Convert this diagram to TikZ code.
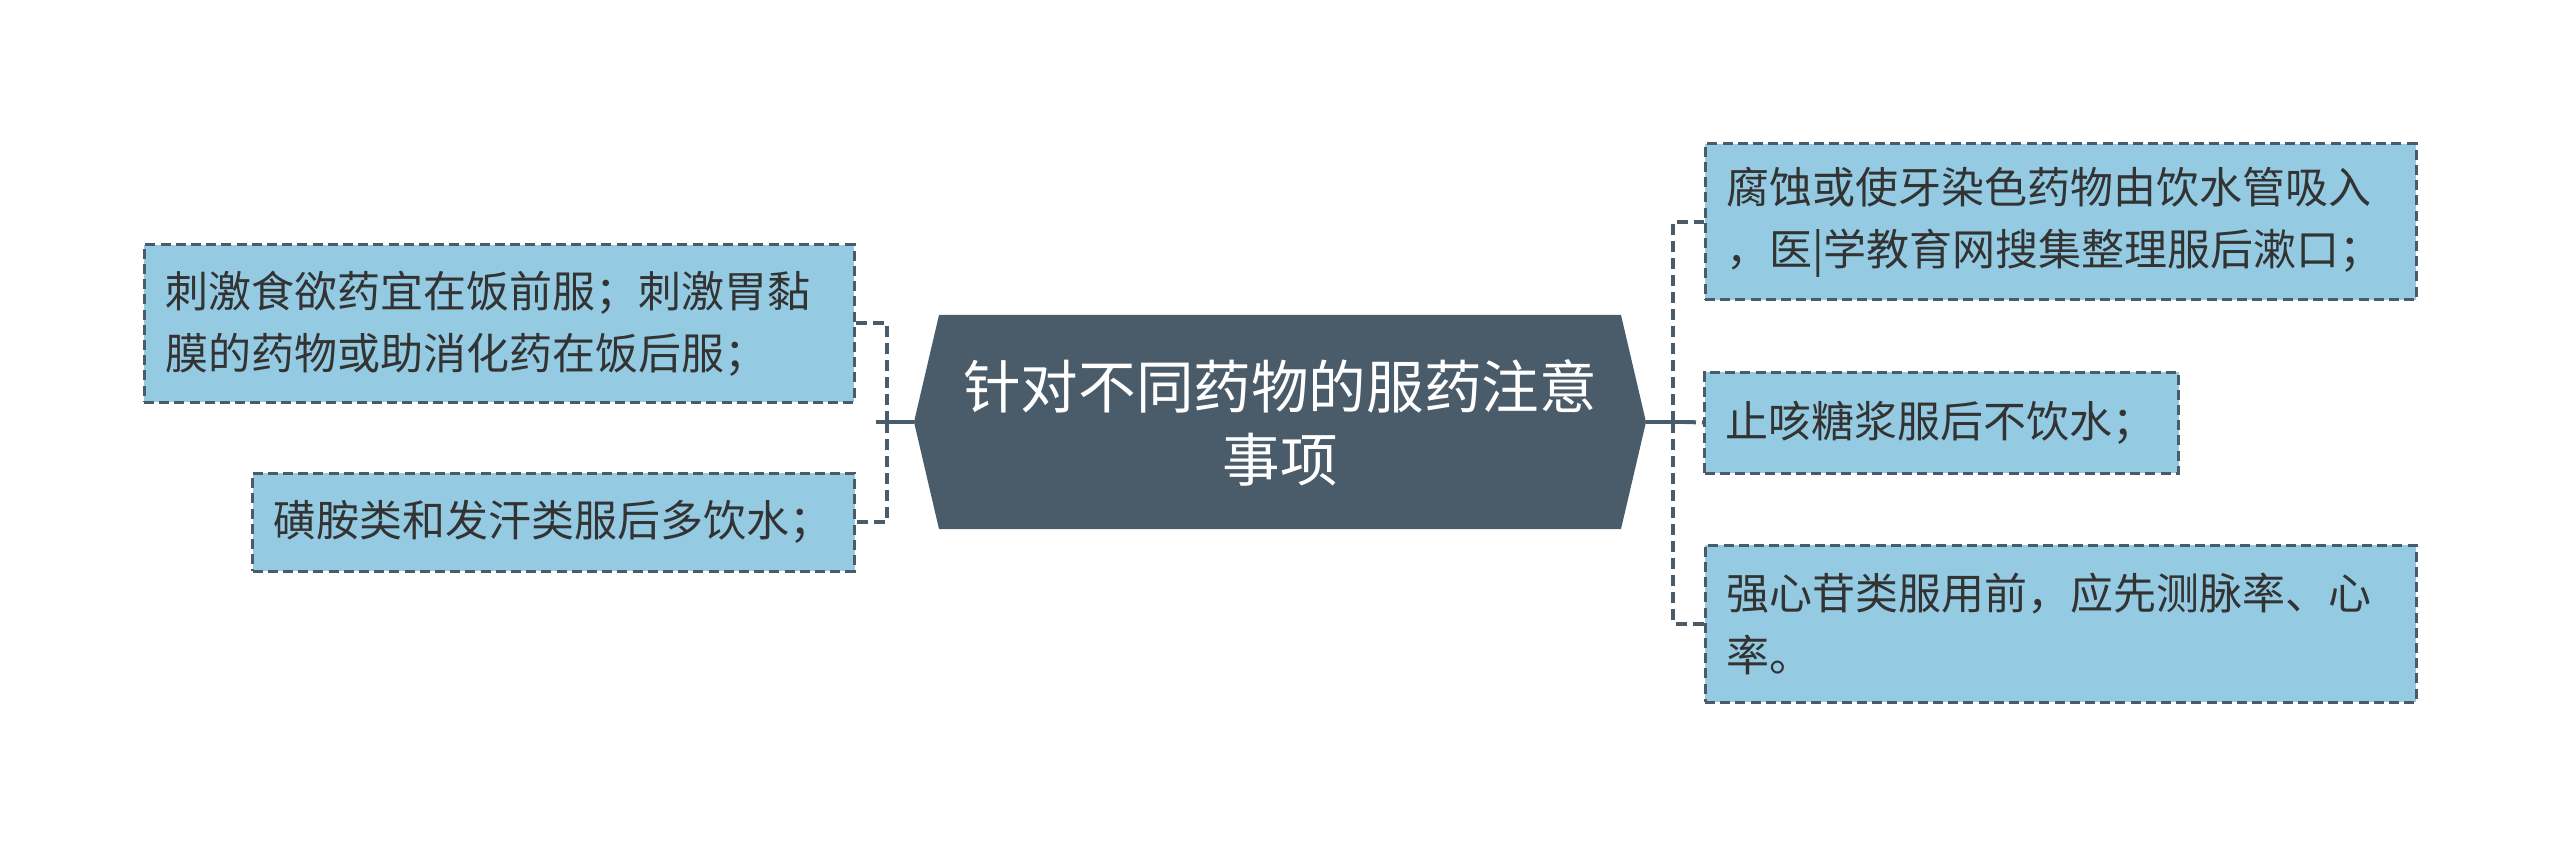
\documentclass[tikz,border=0pt]{standalone}
\usepackage{fontspec}
\usepackage{tikz}
\newfontfamily\cjk{Noto Sans CJK SC}
\definecolor{hubgray}{HTML}{4A5B6A}
\definecolor{notefill}{HTML}{94CBE2}
\definecolor{notetext}{HTML}{333333}
\tikzset{
  notebox/.style = {draw=hubgray, fill=notefill, dash pattern=on 5pt off 2.6pt, line width=1.5pt, text=notetext, align=left, inner xsep=10.5pt, inner ysep=0pt, font=\cjk\fontsize{21.5}{31}\selectfont},
  hubtext/.style = {text=white, align=center, font=\cjk\fontsize{28.8}{36.8}\selectfont},
  stub/.style = {draw=hubgray, line width=2pt},
  link/.style = {draw=hubgray, line width=2pt, dash pattern=on 5.5pt off 3pt},
}

\begin{document}
\begin{tikzpicture}[x=0.5pt, y=-0.5pt]
        \useasboundingbox (0,0) rectangle (2560,845);
        
        % centre
        \fill [hubgray] (914,422) -- (939,315) -- (1621,315) -- (1646,422) -- (1621,529) -- (939,529) -- cycle;
        \node [hubtext] (hub) at (1280,423) {针对不同药物的服药注意\\事项};
        \coordinate (hubW) at (914,422);
        \coordinate (hubE) at (1646,422);
        \coordinate (busW) at (887,422);
        \coordinate (busE) at (1673,422);
        \coordinate (stubW) at (876,422);
        \coordinate (stubE) at (1685,422);
        
        % right
        \node [notebox, text width=334.5pt, minimum height=78pt] (r1) at (2060.5,222) {腐蚀或使牙染色药物由饮水管吸入\\，医|学教育网搜集整理服后漱口；};
        \node [notebox, text width=216pt, minimum height=50.5pt] (r2) at (1941.5,422.5) {止咳糖浆服后不饮水；};
        \node [notebox, text width=334.5pt, minimum height=78.5pt] (r3) at (2060.5,623.5) {强心苷类服用前，应先测脉率、心\\率。};
        
        % left
        \node [notebox, text width=334pt, minimum height=78.5pt] (l1) at (499,323.5) {刺激食欲药宜在饭前服；刺激胃黏\\膜的药物或助消化药在饭后服；};
        \node [notebox, text width=280pt, minimum height=49pt] (l2) at (553.5,522) {磺胺类和发汗类服后多饮水；};
        
        \draw [link] (busE) |- (r1.west);
        \draw [link] (stubE) -- (r2.west);
        \draw [link] (busE) |- (r3.west);
        \draw [stub] (hubE) -- (stubE);
        \draw [link] (busW) |- (l1.east);
        \draw [link] (busW) |- (l2.east);
        \draw [stub] (hubW) -- (stubW);
        
    \end{tikzpicture}
\end{document}
